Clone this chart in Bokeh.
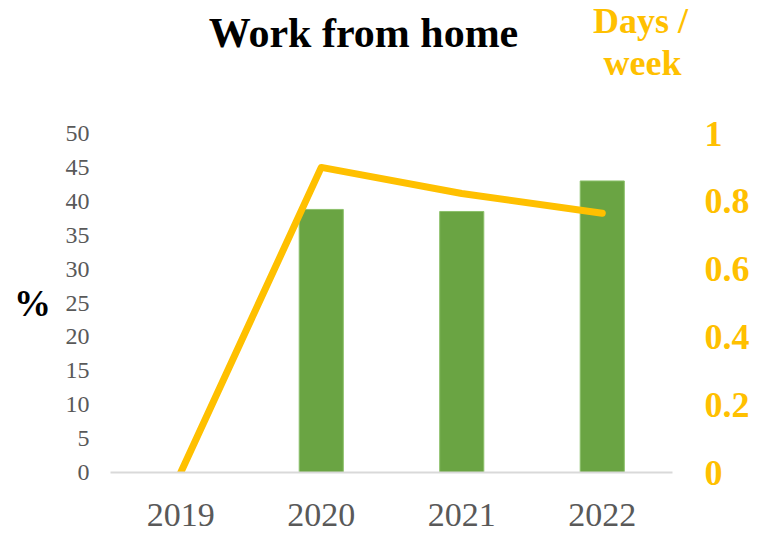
from bokeh.plotting import figure
from bokeh.models import LinearAxis, Range1d, FixedTicker, Label, FactorRange
from bokeh.embed import file_html
from bokeh.resources import INLINE

years = ["2019", "2020", "2021", "2022"]
wfh_pct = [0, 38.8, 38.5, 43.0]
days_per_week = [0, 0.90, 0.823, 0.765]
pct_ticks = [0, 5, 10, 15, 20, 25, 30, 35, 40, 45, 50]
day_ticks = [0, 0.2, 0.4, 0.6, 0.8, 1]
day_tick_labels = ["0", "0.2", "0.4", "0.6", "0.8", "1"]

SERIF = "Liberation Serif"
GOLD = "#FFC000"
GREEN = "#6AA443"
GREY = "#595959"

FL, FT = 110, 133  # frame left / top on the canvas

p = figure(x_range=FactorRange(*years), y_range=Range1d(0, 50),
           frame_width=562, frame_height=339,
           min_border_left=FL, min_border_right=88, min_border_top=FT, min_border_bottom=60,
           output_backend="svg", toolbar_location=None, outline_line_color=None)
p.extra_y_ranges = {"days": Range1d(0, 1)}

p.vbar(x=years, top=wfh_pct, width=0.314, fill_color=GREEN, line_color="#8CC06A",
       line_width=1)
p.line(x=years, y=days_per_week, y_range_name="days", line_color=GOLD, line_width=7,
       line_cap="round", line_join="round")

p.xgrid.visible = False
p.ygrid.visible = False

ax = p.xaxis[0]
ax.axis_line_color = "#D9D9D9"
ax.axis_line_width = 2
ax.major_tick_line_color = None
ax.minor_tick_line_color = None
ax.major_label_text_font = SERIF
ax.major_label_text_font_size = "34px"
ax.major_label_text_color = GREY
ax.major_label_standoff = 25

ay = p.yaxis[0]
ay.ticker = FixedTicker(ticks=pct_ticks)
ay.axis_line_color = None
ay.major_tick_line_color = None
ay.minor_tick_line_color = None
ay.major_label_text_font = SERIF
ay.major_label_text_font_size = "24px"
ay.major_label_text_color = GREY
ay.major_label_standoff = 15

ry = LinearAxis(y_range_name="days", ticker=FixedTicker(ticks=day_ticks),
                major_label_overrides={t: s for t, s in zip(day_ticks, day_tick_labels)})
ry.axis_line_color = None
ry.major_tick_line_color = None
ry.minor_tick_line_color = None
ry.major_label_text_font = SERIF
ry.major_label_text_font_size = "36px"
ry.major_label_text_font_style = "bold"
ry.major_label_text_color = GOLD
ry.major_label_standoff = 26
p.add_layout(ry, "right")


def lab(text, x, y, size, color, side):
    # screen units are relative to the side panel that holds the label
    p.add_layout(Label(x=x, y=y, x_units="screen", y_units="screen", text=text,
                       text_font=SERIF, text_font_size=size, text_font_style="bold",
                       text_color=color, text_align="center", text_baseline="alphabetic"),
                 side)


lab("Work from home", 363 - FL, 101, "42px", "black", "above")
lab("Days /", 640 - FL, 67, "36px", GOLD, "above")
lab("week", 642 - FL, -15, "36px", GOLD, "above")
lab("%", 7, 169, "37px", "black", "left")

open("out.html", "w").write(file_html(p, INLINE))
